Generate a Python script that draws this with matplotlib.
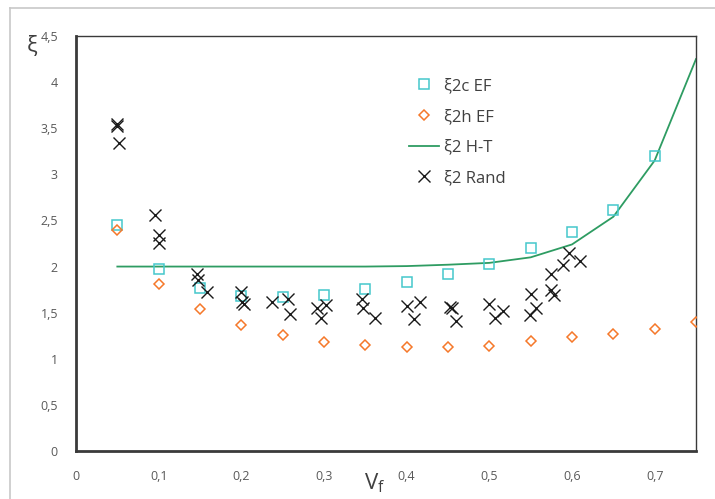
import matplotlib
matplotlib.use("Agg")
import matplotlib.pyplot as plt
from matplotlib.lines import Line2D

plt.rcParams["font.family"] = ["Open Sans", "DejaVu Sans"]

# volume fraction grid for the EF / H-T series
vf = [0.05, 0.10, 0.15, 0.20, 0.25, 0.30, 0.35, 0.40, 0.45, 0.50, 0.55, 0.60, 0.65, 0.70, 0.75]

xi2c_x = vf[:14]
xi2c_ef = [2.45, 1.97, 1.77, 1.68, 1.67, 1.69, 1.76, 1.83, 1.92, 2.03, 2.20, 2.38, 2.61, 3.20]

xi2h_ef = [2.40, 1.81, 1.54, 1.37, 1.26, 1.18, 1.15, 1.13, 1.13, 1.14, 1.19, 1.24, 1.27, 1.32, 1.40]

xi2_ht = [2.0, 2.0, 2.0, 2.0, 2.0, 2.0, 2.0, 2.005, 2.02, 2.04, 2.10, 2.24, 2.54, 3.15, 4.25]

rand_x = [0.049, 0.050, 0.052, 0.096, 0.100, 0.101, 0.146, 0.147, 0.158,
          0.199, 0.201, 0.203, 0.237, 0.256, 0.259, 0.291, 0.296, 0.303,
          0.346, 0.347, 0.362, 0.400, 0.409, 0.416, 0.453, 0.455, 0.460,
          0.500, 0.507, 0.517, 0.549, 0.550, 0.556, 0.574, 0.575, 0.578,
          0.589, 0.596, 0.610]
rand_y = [3.52, 3.55, 3.34, 2.56, 2.34, 2.26, 1.92, 1.85, 1.72,
          1.72, 1.62, 1.59, 1.62, 1.65, 1.49, 1.55, 1.44, 1.58,
          1.65, 1.55, 1.44, 1.57, 1.43, 1.62, 1.56, 1.55, 1.41,
          1.59, 1.44, 1.52, 1.47, 1.70, 1.55, 1.75, 1.92, 1.69,
          2.02, 2.15, 2.06]

x_ticks = [0, 0.1, 0.2, 0.3, 0.4, 0.5, 0.6, 0.7]
y_ticks = [0, 0.5, 1, 1.5, 2, 2.5, 3, 3.5, 4, 4.5]

c_sq = "#45C8CC"
c_dia = "#F5782A"
c_line = "#2E9C62"
c_x = "#1A1A1A"
txt = "#404040"

fig = plt.figure(figsize=(7.15, 4.99), dpi=100)
W, H = 715, 499
ax = fig.add_axes([76 / W, 1 - 451 / H, (696 - 76) / W, (451 - 36) / H])

ax.plot(vf, xi2_ht, color=c_line, lw=1.3, zorder=2)
ax.plot(xi2c_x, xi2c_ef, ls="none", marker="s", ms=7, mfc="none", mec=c_sq, mew=1.1, zorder=3)
ax.plot(vf, xi2h_ef, ls="none", marker="D", ms=5, mfc="none", mec=c_dia, mew=1.1, zorder=3)
ax.plot(rand_x, rand_y, ls="none", marker="x", ms=9, mec=c_x, mew=1.0, zorder=4)

ax.set_xlim(0, 0.75)
ax.set_ylim(0, 4.5)
ax.set_xticks(x_ticks)
ax.set_yticks(y_ticks)
ax.set_xticklabels([f"{t:g}".replace(".", ",") for t in x_ticks])
ax.set_yticklabels([f"{t:g}".replace(".", ",") for t in y_ticks])
ax.tick_params(length=0, labelsize=9, labelcolor="#595959")
ax.tick_params(axis="x", pad=14)
ax.tick_params(axis="y", pad=13)

for side in ("left", "bottom"):
    ax.spines[side].set_linewidth(2.0)
    ax.spines[side].set_color("#3a3a3a")
for side in ("top", "right"):
    ax.spines[side].set_linewidth(1.0)
    ax.spines[side].set_color("#3a3a3a")

fig.text(32 / W, 1 - 46 / H, "ξ", fontsize=16, color=txt, ha="center", va="center")
fig.text(375 / W, 1 - 483 / H, "V$_\\mathregular{f}$", fontsize=16, color=txt, ha="center", va="center")

# chart-area border (only top and left visible)
fig.add_artist(Line2D([10 / W, 10 / W], [0, 1 - 8 / H], color="#c8c8c8", lw=1.2))
fig.add_artist(Line2D([10 / W, 1], [1 - 8 / H, 1 - 8 / H], color="#c8c8c8", lw=1.2))

handles = [
    Line2D([], [], ls="none", marker="s", ms=7, mfc="none", mec=c_sq, mew=1.1),
    Line2D([], [], ls="none", marker="D", ms=5, mfc="none", mec=c_dia, mew=1.1),
    Line2D([], [], color=c_line, lw=1.3),
    Line2D([], [], ls="none", marker="x", ms=9, mec=c_x, mew=1.0),
]
labels = ["ξ2c EF", "ξ2h EF", "ξ2 H-T", "ξ2 Rand"]
leg = ax.legend(handles, labels, loc="upper left", bbox_to_anchor=(401 / W, 1 - 70 / H),
                bbox_transform=fig.transFigure, frameon=False, fontsize=12,
                handlelength=1.75, handletextpad=0.3, labelspacing=0.88, borderpad=0)
for t in leg.get_texts():
    t.set_color(txt)

fig.savefig("out.png", dpi=100)
